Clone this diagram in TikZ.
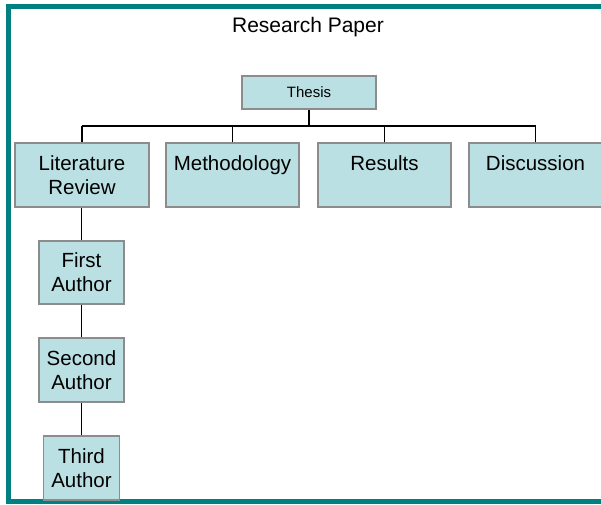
\documentclass[tikz,border=0pt]{standalone}
\usepackage{xcolor}
\usepackage{fontspec}
\setmainfont{Liberation Sans}
\usepackage{tikz}
\usetikzlibrary{positioning}
\definecolor{myteal}{RGB}{0,128,128}
\definecolor{boxfill}{RGB}{187,224,227}
\definecolor{boxline}{RGB}{140,140,140}
\tikzset{
  topbox/.style={rectangle, draw=boxline, fill=boxfill, line width=1.5pt,
    minimum width=134pt, minimum height=64pt, align=center,
    font=\fontsize{20.5}{24}\selectfont, inner sep=0pt},
  authbox/.style={rectangle, draw=boxline, fill=boxfill, line width=1.5pt,
    minimum width=85pt, minimum height=63pt, align=center,
    font=\fontsize{20.5}{24}\selectfont, inner sep=0pt},
  link/.style={line width=1.6pt, color=black}
}

\begin{document}
\begin{tikzpicture}[x=1pt, y=-1pt]
  \useasboundingbox (0,0) rectangle (601,504);

  % Frame (open on the right)
  \draw[myteal, line width=5pt] (601,6.5) -- (8.5,6.5) -- (8.5,501.5) -- (601,501.5);

  % Title
  \node[font=\fontsize{21}{25}\selectfont] (title) at (308,27) {Research Paper};

  % Thesis
  \node[topbox, minimum height=33pt, font=\fontsize{15}{18}\selectfont] (thesis) at (309,92.5) {Thesis};

  % First level
  \node[topbox] (lit) at (82,175) {Literature\\Review};
  \node[topbox, minimum width=133pt] (meth) at (232.5,175) {Methodology\\\phantom{R}};
  \node[topbox, minimum width=133pt] (res) at (384.5,175) {Results\\\phantom{R}};
  \node[topbox, minimum width=133pt] (disc) at (535.5,175) {Discussion\\\phantom{R}};

  % Authors under the literature review
  \node[authbox] (first) at (81.5,272.5) {First\\Author};
  \node[authbox, minimum height=64pt] (second) at (81.5,370) {Second\\Author};
  \node[authbox, minimum width=76pt, minimum height=64pt] (third) at (81.5,468) {Third\\Author};

  % Connectors
  \coordinate (bus) at (309,126);
  \draw[link] (thesis.south) -- (bus);
  \draw[link] (lit.north |- bus) -- (disc.north |- bus);
  \draw[link] (lit.north) -- (lit.north |- bus);
  \draw[link] (meth.north) -- (meth.north |- bus);
  \draw[link] (res.north) -- (res.north |- bus);
  \draw[link] (disc.north) -- (disc.north |- bus);
  \draw[link] (first.north |- lit.south) -- (first.north);
  \draw[link] (first.south) -- (second.north);
  \draw[link] (second.south) -- (third.north);
\end{tikzpicture}
\end{document}
